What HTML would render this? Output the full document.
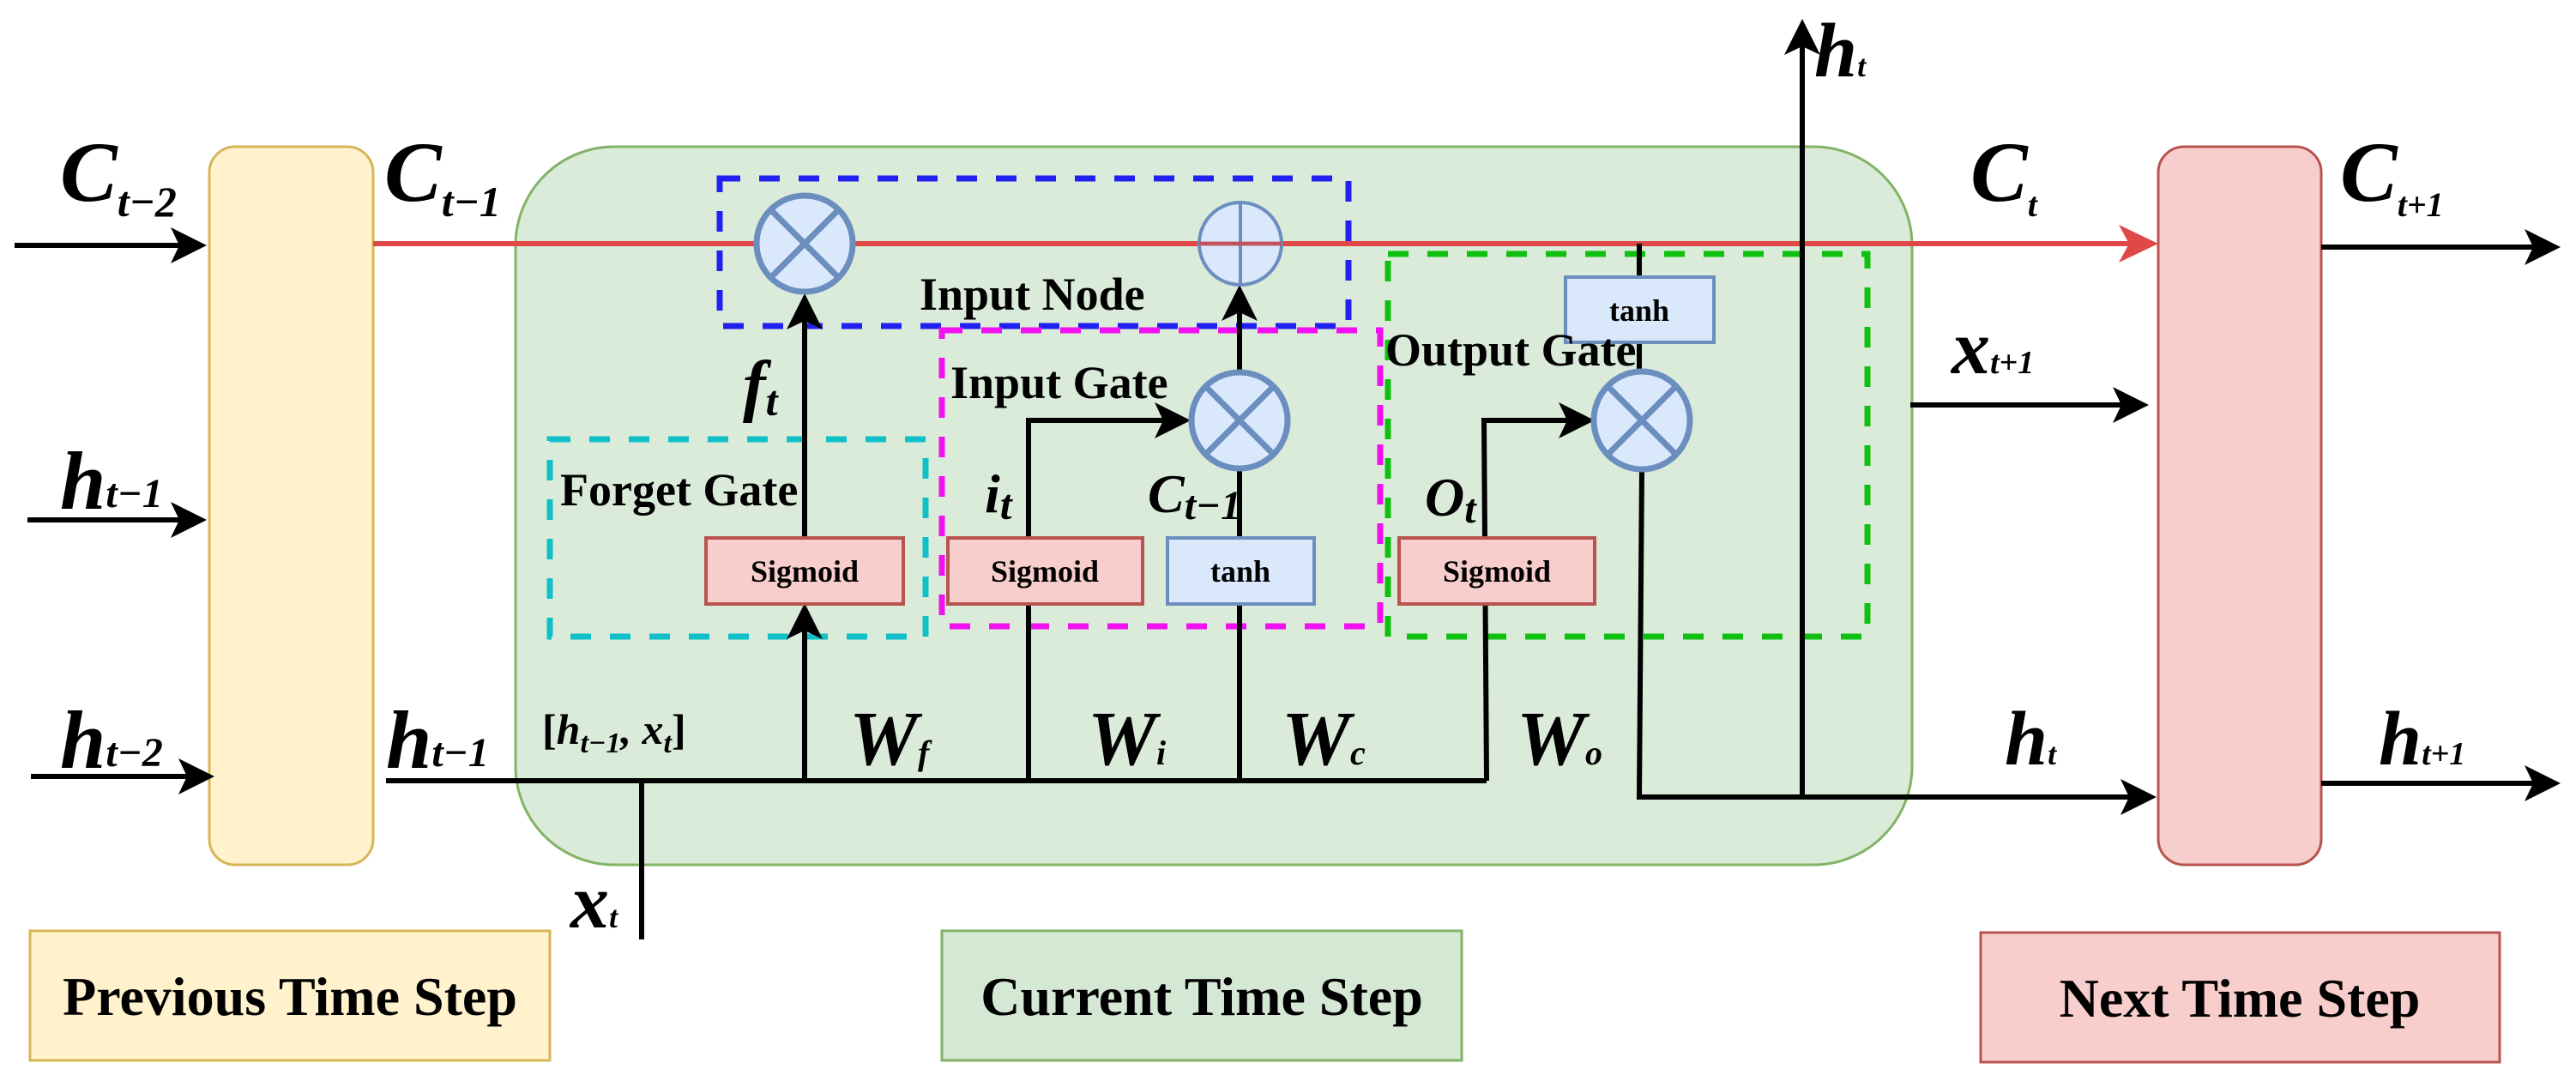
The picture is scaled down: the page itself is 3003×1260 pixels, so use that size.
<!DOCTYPE html>
<html><head><meta charset="utf-8"><style>
html,body{margin:0;padding:0;background:#fff}
svg{display:block}
svg text{font-family:"Liberation Serif","DejaVu Serif",serif;font-weight:bold}
.it{font-style:italic}
</style></head><body>
<svg width="3003" height="1260" viewBox="0 0 3003 1260" xmlns="http://www.w3.org/2000/svg" font-family="Liberation Serif, DejaVu Serif, serif">
<!-- main boxes -->
<rect x="244" y="171" width="191" height="837" rx="30" fill="#fff2cc" stroke="#d6b656" stroke-width="3"/>
<rect x="601" y="171" width="1628" height="837" rx="115" fill="#d5e8d4" fill-opacity="0.85" stroke="#82b366" stroke-width="3"/>
<rect x="2516" y="171" width="190" height="837" rx="30" fill="#f8cecc" stroke="#b85450" stroke-width="3"/>
<!-- legend -->
<rect x="35" y="1085" width="606" height="151" fill="#fff2cc" stroke="#d6b656" stroke-width="3"/>
<rect x="1098" y="1085" width="606" height="151" fill="#d5e8d4" stroke="#82b366" stroke-width="3"/>
<rect x="2309" y="1087" width="605" height="151" fill="#f8cecc" stroke="#b85450" stroke-width="3"/>
<g font-family="Liberation Serif, serif" font-weight="bold">
<text x="338" y="1183" font-size="64" text-anchor="middle">Previous Time Step</text>
<text x="1401" y="1183" font-size="64" text-anchor="middle">Current Time Step</text>
<text x="2611" y="1185" font-size="64" text-anchor="middle">Next Time Step</text>
</g>

<!-- dashed boxes -->
<rect x="839" y="208" width="733" height="172" fill="none" stroke="#2020f0" stroke-width="7" stroke-dasharray="24,22"/>
<rect x="641" y="512" width="438" height="230" fill="none" stroke="#10c0c8" stroke-width="7" stroke-dasharray="24,22"/>
<rect x="1098" y="385" width="511" height="345" fill="none" stroke="#f010f0" stroke-width="7" stroke-dasharray="24,22"/>
<rect x="1618" y="296" width="559" height="446" fill="none" stroke="#10c010" stroke-width="7" stroke-dasharray="24,22"/>

<!-- red cell line -->
<line x1="435" y1="284" x2="2490" y2="284" stroke="#e04848" stroke-width="6"/>
<polygon points="2516,284 2470,262 2482,284 2470,306" fill="#e04848"/>

<!-- black lines -->
<g stroke="#000" stroke-width="6" fill="none">
<line x1="17" y1="286" x2="215" y2="286"/>
<line x1="32" y1="606" x2="215" y2="606"/>
<line x1="36" y1="905" x2="222" y2="905"/>
<line x1="450" y1="910" x2="1733" y2="910"/>
<line x1="748" y1="910" x2="748" y2="1095"/>
<line x1="938" y1="910" x2="938" y2="730"/>
<line x1="938" y1="627" x2="938" y2="366"/>
<polyline points="1199,910 1199,490 1362,490"/>
<line x1="1445" y1="910" x2="1445" y2="548"/>
<line x1="1445" y1="432" x2="1445" y2="356"/>
<polyline points="1733,910 1730,490 1833,490"/>
<line x1="1911" y1="284" x2="1911" y2="323"/>
<line x1="1911" y1="399" x2="1911" y2="433"/>
<polyline points="1914,547 1911,929 2490,929"/>
<line x1="2101" y1="929" x2="2101" y2="50"/>
<line x1="2227" y1="472" x2="2480" y2="472"/>
<line x1="2706" y1="288" x2="2960" y2="288"/>
<line x1="2706" y1="913" x2="2960" y2="913"/>
</g>
<g fill="#000">
<polygon points="241,286 199,265 209,286 199,307"/>
<polygon points="241,606 199,585 209,606 199,627"/>
<polygon points="250,905 208,884 218,905 208,926"/>
<polygon points="938,342 917,384 938,374 959,384"/>
<polygon points="938,703 917,745 938,735 959,745"/>
<polygon points="1445,332 1424,374 1445,364 1466,374"/>
<polygon points="1388,490 1346,469 1356,490 1346,511"/>
<polygon points="1859,490 1817,469 1827,490 1817,511"/>
<polygon points="2101,22 2080,64 2101,54 2122,64"/>
<polygon points="2505,472 2463,451 2473,472 2463,493"/>
<polygon points="2514,929 2472,908 2482,929 2472,950"/>
<polygon points="2985,288 2943,267 2953,288 2943,309"/>
<polygon points="2985,913 2943,892 2953,913 2943,934"/>
</g>

<!-- circles -->
<g fill="#dae8fc" stroke="#6c8ebf">
<circle cx="938" cy="284" r="56" stroke-width="7"/>
<circle cx="1446" cy="284" r="48" stroke-width="4"/>
<circle cx="1445" cy="490" r="56" stroke-width="7"/>
<ellipse cx="1914" cy="490" rx="56" ry="57" stroke-width="7"/>
</g>
<g stroke="#6c8ebf" stroke-width="7">
<line x1="898" y1="244" x2="978" y2="324"/><line x1="978" y1="244" x2="898" y2="324"/>
<line x1="1405" y1="450" x2="1485" y2="530"/><line x1="1485" y1="450" x2="1405" y2="530"/>
<line x1="1874" y1="450" x2="1954" y2="530"/><line x1="1954" y1="450" x2="1874" y2="530"/>
</g>
<g stroke="#6c8ebf" stroke-width="4">
<line x1="1446" y1="236" x2="1446" y2="332"/>
<line x1="1398" y1="284" x2="1494" y2="284"/>
</g>
<line x1="1398" y1="284" x2="1494" y2="284" stroke="#d04848" stroke-width="5" opacity="0.8"/>

<!-- gate boxes -->
<rect x="823" y="627" width="230" height="77" fill="#f8cecc" stroke="#b85450" stroke-width="4"/>
<rect x="1105" y="627" width="227" height="77" fill="#f8cecc" stroke="#b85450" stroke-width="4"/>
<rect x="1361" y="627" width="171" height="77" fill="#dae8fc" stroke="#6c8ebf" stroke-width="4"/>
<rect x="1631" y="627" width="228" height="77" fill="#f8cecc" stroke="#b85450" stroke-width="4"/>
<rect x="1825" y="323" width="173" height="76" fill="#dae8fc" stroke="#6c8ebf" stroke-width="4"/>
<g font-size="36" text-anchor="middle" font-family="Liberation Serif, serif" font-weight="bold">
<text x="938" y="678">Sigmoid</text>
<text x="1218" y="678">Sigmoid</text>
<text x="1446" y="678">tanh</text>
<text x="1745" y="678">Sigmoid</text>
<text x="1911" y="374">tanh</text>
</g>

<g font-size="54" font-family="Liberation Serif, serif" font-weight="bold">
<text x="1072" y="361">Input Node</text>
<text x="653" y="589">Forget Gate</text>
<text x="1108" y="464">Input Gate</text>
<text x="1615" y="426">Output Gate</text>
</g>

<g font-family="Liberation Serif, serif" font-weight="bold" font-style="italic">
<text x="70" y="234" font-size="100">C<tspan font-size="50" dy="18">t−2</tspan></text>
<text x="448" y="234" font-size="100">C<tspan font-size="50" dy="18">t−1</tspan></text>
<text x="70" y="593" font-size="96">h<tspan font-size="48" dy="-2">t−1</tspan></text>
<text x="70" y="895" font-size="96">h<tspan font-size="48" dy="-2">t−2</tspan></text>
<text x="450" y="895" font-size="96">h<tspan font-size="48" dy="-2">t−1</tspan></text>
<text x="632" y="867" font-size="50" font-style="normal">[<tspan font-style="italic">h</tspan><tspan font-style="italic" font-size="34" dy="10">t−1</tspan><tspan dy="-10" font-style="italic">, x</tspan><tspan font-style="italic" font-size="34" dy="10">t</tspan><tspan dy="-10">]</tspan></text>
<text x="665" y="1081" font-size="90">x<tspan font-size="36">t</tspan></text>
<text x="866" y="476" font-size="80">f<tspan font-size="50" dy="8">t</tspan></text>
<text x="1148" y="597" font-size="64">i<tspan font-size="50" dy="8">t</tspan></text>
<text x="1338" y="597" font-size="64">C<tspan font-size="48" dy="8">t−1</tspan></text>
<text x="1661" y="601" font-size="64">O<tspan font-size="48" dy="8">t</tspan></text>
<text x="990" y="891" font-size="90">W<tspan font-size="40">f</tspan></text>
<text x="1268" y="891" font-size="90">W<tspan font-size="40">i</tspan></text>
<text x="1494" y="891" font-size="90">W<tspan font-size="40">c</tspan></text>
<text x="1768" y="891" font-size="90">W<tspan font-size="40">o</tspan></text>
<text x="2115" y="89" font-size="90">h<tspan font-size="36">t</tspan></text>
<text x="2297" y="234" font-size="100">C<tspan font-size="40" dy="18">t</tspan></text>
<text x="2275" y="435" font-size="90">x<tspan font-size="38">t+1</tspan></text>
<text x="2337" y="891" font-size="90">h<tspan font-size="36">t</tspan></text>
<text x="2728" y="234" font-size="100">C<tspan font-size="40" dy="18">t+1</tspan></text>
<text x="2773" y="891" font-size="90">h<tspan font-size="38">t+1</tspan></text>
</g>
</svg>
</body></html>
